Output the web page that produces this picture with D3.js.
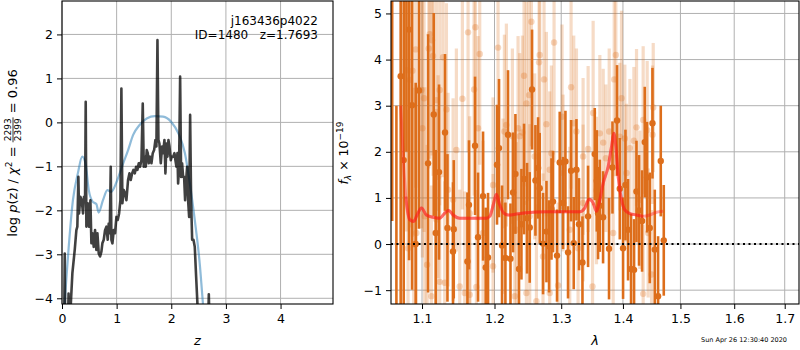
<!DOCTYPE html>
<html>
<head>
<meta charset="utf-8">
<script src="https://cdn.jsdelivr.net/npm/d3@7/dist/d3.min.js"></script>
<style>
body { margin: 0; background: #fff; }
svg text { font-family: "DejaVu Sans", sans-serif; }
</style>
</head>
<body>
<svg width="800" height="350"></svg>
<script>
// ---- left panel: log p(z)
var pzZ = [0.040,0.050,0.058,0.110,0.120,0.126,0.150,0.190,0.233,0.263,0.281,0.300,0.312,0.336,0.361,0.385,0.403,0.422,0.434,0.446,
    0.471,0.495,0.520,0.538,0.556,0.581,0.605,0.629,0.648,0.672,0.697,0.721,0.739,0.764,0.788,0.813,0.837,0.855,0.874,0.892,
    0.904,0.923,0.947,0.971,0.996,1.020,1.045,1.069,1.087,1.105,1.130,1.154,1.179,1.209,1.234,1.258,1.283,1.307,1.332,1.356,
    1.380,1.405,1.429,1.454,1.478,1.496,1.515,1.533,1.551,1.570,1.588,1.612,1.637,1.661,1.686,1.710,1.728,1.747,1.765,1.783,
    1.808,1.832,1.850,1.875,1.893,1.912,1.930,1.948,1.967,1.991,2.009,2.034,2.058,2.076,2.095,2.113,2.125,2.143,2.162,2.180,
    2.198,2.217,2.235,2.253,2.272,2.290,2.308,2.327,2.345,2.363,2.382,2.406,2.430,2.455,2.479,2.500,2.675,2.687,2.700];
var pzLog = [-4.6,-2.98,-4.6,-4.6,-3.89,-4.6,-4.4,-3.43,-2.90,-2.45,-2.37,-1.24,-2.07,-1.69,-1.77,-2.07,-1.69,-1.77,0.47,-2.37,
    -1.84,-2.37,-1.77,-2.75,-2.52,-2.83,-2.45,-2.90,-2.52,-2.98,-3.05,-2.94,-2.75,-2.67,-2.45,-2.37,-2.67,-2.30,-2.52,-1.01,
    -2.67,-2.75,-2.45,-2.52,-2.15,-2.22,-2.07,-1.77,0.77,-1.84,-1.54,-1.61,-1.77,-1.31,-1.16,-1.31,-1.16,-1.08,-1.16,-1.01,
    -1.08,-0.93,-1.01,-0.86,0.43,-1.01,-0.78,-1.01,-0.63,-0.70,-0.93,-0.78,-0.93,-0.70,-0.63,-0.40,-0.55,1.87,-0.40,-0.48,
    -0.93,-0.55,-0.70,-0.40,-1.16,-0.48,-0.78,-0.40,-0.55,-0.86,-0.78,-0.78,-0.70,-0.86,-1.01,-0.70,-1.39,-1.01,1.04,-1.24,
    -0.93,-1.24,-1.24,-1.77,-1.31,-1.01,-1.77,-2.15,0.17,-1.77,-2.67,-2.67,-2.83,-3.51,-4.13,-4.6,-4.6,-3.91,-4.6];
var priorZ = [0.03,0.05,0.11,0.20,0.29,0.37,0.43,0.49,0.56,0.63,0.67,0.75,0.83,0.90,1.00,1.12,1.21,1.30,1.42,1.55,
    1.70,1.85,2.00,2.13,2.25,2.34,2.43,2.52,2.58,2.61];
var priorLog = [-4.6,-4.13,-3.05,-1.77,-1.16,-0.78,-0.93,-1.54,-1.80,-1.86,-2.05,-1.77,-1.54,-1.58,-1.35,-0.93,-0.63,-0.29,-0.06,0.09,
    0.14,0.13,0.01,-0.25,-0.70,-1.39,-2.22,-3.20,-4.13,-4.6];
var zTicks = [0, 1, 2, 3, 4];
var pzTicks = [-4, -3, -2, -1, 0, 1, 2];
var objName = "j163436p4022";
var objInfo = "ID=1480   z=1.7693";
var chiNum = "2293", chiDen = "2399", chiVal = "0.96";

// ---- right panel: spectrum
var darkWave = [1.0613,1.0667,1.0722,1.0761,1.0796,1.0830,1.0869,1.0917,1.0960,1.1080,1.1156,1.1182,1.1227,1.1308,1.1341,1.1417,1.1427,
    1.1616,1.1638,1.1723,1.1765,1.1836,1.1874,1.1907,1.2036,1.2065,1.2109,1.2158,1.2196,1.2232,1.2270,1.2305,1.2358,1.2394,1.2433,
    1.2478,1.2518,1.2553,1.2604,1.2644,1.2669,1.2720,1.2772,1.2812,1.2849,1.2873,1.2935,1.2977,1.3029,1.3066,1.3107,1.3155,1.3197,
    1.3240,1.3281,1.3336,1.3426,1.3534,1.3567,1.3588,1.3616,1.3670,1.3768,1.3825,1.3901,1.3947,1.4002,1.4042,1.4086,1.4137,1.4188,
    1.4229,1.4273,1.4325,1.4371,1.4411,1.4458,1.4505,1.4545,1.4603,1.4650,1.4703];
var darkFlux = [6.5,-2.0,3.64,1.82,7.0,4.65,3.01,0.00,3.33,1.75,2.81,0.24,1.56,2.42,0.35,-0.16,0.32,
    -0.38,0.85,2.13,0.15,1.04,-0.51,-0.29,1.72,2.08,-0.03,-0.30,2.37,-0.32,1.12,1.52,-0.54,0.43,1.41,
    0.56,0.36,3.35,1.38,1.65,1.21,0.01,0.27,-0.05,0.76,0.92,-0.25,1.77,0.89,1.79,-0.18,1.59,0.02,
    1.61,0.43,-0.40,0.60,1.95,1.37,0.67,0.83,0.58,-0.10,1.66,2.68,1.20,-0.09,1.28,0.31,-0.54,-0.56,
    1.14,0.73,0.50,2.21,1.45,0.35,2.62,-0.12,-1.13,1.80,0.08];
var darkErr = [6.0,5.0,5.0,4.0,5.0,5.0,4.0,3.5,3.0,2.8,2.2,1.8,1.9,1.7,1.6,1.5,1.5,
    1.5,1.4,1.5,1.4,1.4,1.3,1.4,1.3,1.5,1.3,1.2,1.4,1.2,1.3,1.3,1.2,1.2,1.2,
    1.2,1.2,1.3,1.2,1.1,1.2,1.1,1.1,1.0,1.1,1.1,1.0,1.1,1.0,1.1,1.0,1.1,1.0,
    1.1,1.0,1.0,1.1,1.0,1.1,1.0,1.0,1.0,1.1,1.0,1.2,1.1,1.1,1.2,1.1,1.2,1.1,
    1.1,1.2,1.1,1.2,1.2,1.2,1.2,1.3,1.3,1.2,1.2];
var lightWave = [1.0795,1.0839,1.0874,1.0917,1.0891,1.0992,1.1005,1.1027,1.1089,1.1102,1.1133,1.1147,1.1191,1.1214,1.1236,1.1281,1.1327,
    1.1349,1.1463,1.1546,1.1625,1.1709,1.1728,1.1765,1.1789,1.1979,1.2051,1.2143,1.2172,1.2260,1.2344,1.2369,1.2408,1.2433,1.2468,
    1.2508,1.2543,1.2593,1.2659,1.2669,1.2735,1.2771,1.2822,1.2848,1.2889,1.3013,1.3155,1.3197,1.3240,1.3346,1.3427,1.3508,1.3617,
    1.3672,1.3716,1.3771,1.3854,1.3881,1.3948,1.3976,1.4032,1.4117,1.4185,1.4230,1.4344,1.4413,1.4489,1.4506,1.4518,
    1.0817,1.1067,1.1124,1.1236,1.1304,1.1509,1.1579,1.1648,1.1742,1.1979,1.2295,1.2468,1.2619,1.2822,1.2951,1.3266,1.3498,1.4344,
    1.0926,1.1036,1.1191,1.1418,1.1648,1.1836,1.2123,1.2319,1.2518,1.2719,1.3029,1.3134,1.3346,1.3562,1.3837,1.4060,1.4287,1.4430];
var lightFlux = [3.77,3.56,3.76,4.22,-0.01,3.34,2.51,3.16,4.24,4.55,4.42,4.08,3.12,1.46,3.34,4.05,2.92,
    1.18,2.04,3.15,4.59,3.35,4.70,2.51,4.12,1.28,4.26,2.44,2.58,2.34,2.51,2.34,2.42,3.65,3.05,
    3.23,4.82,1.90,3.94,4.10,3.57,2.60,1.61,1.97,4.37,2.76,3.40,2.62,2.44,1.90,2.06,2.84,2.40,
    2.20,1.86,2.44,3.57,4.10,2.33,3.16,2.29,2.08,2.24,2.53,2.69,2.47,-0.66,2.37,2.96,
    -0.09,-0.45,-1.13,-0.82,-0.84,-0.92,-1.06,-1.10,-0.93,-0.48,-1.13,-1.06,-1.24,-1.06,-0.90,-0.09,-0.92,-1.08,
    0.24,0.60,0.53,0.96,0.67,0.24,0.82,0.31,0.60,-0.27,1.54,0.31,0.89,1.16,0.24,1.54,0.96,0.24];
var lightErr = [3.5,3.2,3.6,3.0,3.4,3.0,2.8,2.9,2.6,2.7,2.5,2.6,2.4,2.2,2.5,2.6,2.3,
    2.1,2.2,2.4,2.6,2.3,2.7,2.0,2.4,1.9,2.6,2.1,2.2,1.9,2.0,1.8,2.1,2.4,2.2,
    2.3,2.7,1.8,2.4,2.5,2.2,2.0,1.7,1.9,2.6,2.0,2.2,1.9,1.8,1.7,1.8,2.0,1.7,
    1.6,1.6,1.8,2.1,2.4,1.6,1.9,1.6,1.5,1.6,1.7,1.6,1.5,1.4,1.5,1.4,
    3.0,2.6,2.4,2.3,2.2,2.1,2.2,2.0,2.1,2.0,1.9,2.0,2.1,1.9,1.8,1.7,1.8,1.5,
    3.2,2.8,2.4,2.2,2.1,2.0,1.9,1.9,2.0,1.8,1.7,1.8,1.7,1.6,1.7,1.5,1.5,1.4];
var modelWave = [1.0722,1.0752,1.0787,1.0839,1.0891,1.0935,1.0992,1.1058,1.1147,1.1236,1.1304,1.1358,1.1418,1.1509,1.1695,1.1884,
    1.1931,1.1989,1.2027,1.2075,1.2134,1.2197,1.2319,1.2468,1.2771,1.3029,1.3292,1.3373,1.3443,1.3508,1.3562,1.3617,1.3672,
    1.3754,1.3809,1.3848,1.3881,1.3920,1.3976,1.4032,1.4117,1.4230,1.4344,1.4459,1.4576,1.4693];
var modelFlux = [3.00,1.97,1.03,0.53,0.49,0.63,0.78,0.63,0.58,0.56,0.67,0.73,0.63,0.56,0.56,0.56,
    0.60,0.89,1.08,0.85,0.67,0.63,0.65,0.68,0.70,0.70,0.70,0.78,0.97,0.89,0.71,0.96,1.32,
    1.68,2.11,2.40,2.11,1.46,0.96,0.74,0.66,0.63,0.60,0.63,0.69,0.71];
var beamRanges = [[1.0722, 1.4693], [1.0787, 1.4400]];
var waveTicks = [1.1, 1.2, 1.3, 1.4, 1.5, 1.6, 1.7];
var fluxTicks = [-1, 0, 1, 2, 3, 4, 5];
var stamp = "Sun Apr 26 12:30:40 2020";

var orange = "#dd6e1b";
var svg = d3.select("svg");

// Left panel scales
var zx = d3.scaleLinear().domain([0, 4.96]).range([62, 333]);
var zy = d3.scaleLinear().domain([-4.13, 2.76]).range([304, 1]);
// Right panel scales (log wavelength axis)
var lx = d3.scaleLog().domain([1.0598, 1.7294]).range([391, 799]);
var ly = d3.scaleLinear().domain([-1.30, 5.27]).range([304, 1]);

function panel(id, x, y, xticks, yticks) {
    var g = svg.append("g");
    var x0 = x.range()[0], x1 = x.range()[1], y0 = y.range()[1], y1 = y.range()[0];
    svg.append("clipPath").attr("id", id).append("rect")
        .attr("x", x0).attr("y", y0).attr("width", x1 - x0).attr("height", y1 - y0);
    // grid
    g.selectAll(".gx").data(xticks).enter().append("line")
        .attr("x1", function(d) { return x(d); }).attr("x2", function(d) { return x(d); })
        .attr("y1", y0).attr("y2", y1)
        .attr("stroke", "#b0b0b0").attr("stroke-width", 1);
    g.selectAll(".gy").data(yticks).enter().append("line")
        .attr("x1", x0).attr("x2", x1)
        .attr("y1", function(d) { return y(d); }).attr("y2", function(d) { return y(d); })
        .attr("stroke", "#b0b0b0").attr("stroke-width", 1);
    return g;
}

function frame(x, y, xticks, yticks, xfmt) {
    var x0 = x.range()[0], x1 = x.range()[1], y0 = y.range()[1], y1 = y.range()[0];
    var ax = svg.append("g").attr("transform", "translate(0," + y1 + ")")
        .call(d3.axisBottom(x).tickValues(xticks).tickSize(5).tickPadding(5).tickFormat(xfmt));
    var ay = svg.append("g").attr("transform", "translate(" + x0 + ",0)")
        .call(d3.axisLeft(y).tickValues(yticks).tickSize(5).tickPadding(4).tickFormat(d3.format("d")));
    [ax, ay].forEach(function(a) {
        a.select(".domain").remove();
        a.attr("font-family", null).attr("font-size", 12.5);
        a.selectAll("line").attr("stroke", "#000").attr("stroke-width", 1);
        a.selectAll("text").attr("fill", "#000");
    });
    svg.append("rect").attr("x", x0).attr("y", y0).attr("width", x1 - x0).attr("height", y1 - y0)
        .attr("fill", "none").attr("stroke", "#000").attr("stroke-width", 1.1);
}

// ---------- left panel
panel("clipL", zx, zy, zTicks, pzTicks);
var gl = svg.append("g").attr("clip-path", "url(#clipL)");

var prior = priorZ.map(function(z, i) { return [z, priorLog[i]]; });
gl.append("path").datum(prior)
    .attr("fill", "none").attr("stroke", "#1f77b4").attr("stroke-opacity", 0.5).attr("stroke-width", 2.2)
    .attr("d", d3.line().x(function(d) { return zx(d[0]); }).y(function(d) { return zy(d[1]); }).curve(d3.curveMonotoneX));

var pz = pzZ.map(function(z, i) { return [z, pzLog[i]]; });
gl.append("path").datum(pz)
    .attr("fill", "none").attr("stroke", "#000").attr("stroke-opacity", 0.75).attr("stroke-width", 2.6)
    .attr("stroke-linejoin", "round")
    .attr("d", d3.line().x(function(d) { return zx(d[0]); }).y(function(d) { return zy(d[1]); }));

frame(zx, zy, zTicks, pzTicks, d3.format("d"));

svg.append("text").attr("x", 318).attr("y", 25).attr("text-anchor", "end").attr("font-size", 12)
    .text(objName);
svg.append("text").attr("x", 318).attr("y", 39).attr("text-anchor", "end").attr("font-size", 12)
    .style("white-space", "pre").text(objInfo);

// x label
svg.append("text").attr("x", zx(2.48)).attr("y", 345).attr("text-anchor", "middle")
    .attr("font-size", 13).attr("font-style", "italic").text("z");

// y label with the chi2 fraction
var lab = svg.append("g").attr("transform", "translate(17,153) rotate(-90)");
var inner = lab.append("g");
var t1 = inner.append("text").attr("font-size", 13);
t1.append("tspan").text("log ");
t1.append("tspan").attr("font-style", "italic").text("p");
t1.append("tspan").text("(z) / ");
t1.append("tspan").attr("font-style", "italic").text("χ");
t1.append("tspan").attr("font-size", 9).attr("dy", -5).text("2");
t1.append("tspan").attr("dy", 5).style("white-space", "pre").text(" = ");
var w1 = t1.node().getComputedTextLength();
var num = inner.append("text").attr("font-size", 9).attr("text-anchor", "middle").attr("y", -6).text(chiNum);
var fw = num.node().getComputedTextLength() + 2;
num.attr("x", w1 + fw / 2);
inner.append("text").attr("font-size", 9).attr("text-anchor", "middle")
    .attr("x", w1 + fw / 2).attr("y", 4).text(chiDen);
inner.append("line").attr("x1", w1).attr("x2", w1 + fw).attr("y1", -4).attr("y2", -4)
    .attr("stroke", "#000").attr("stroke-width", 0.8);
var t3 = inner.append("text").attr("font-size", 13).attr("x", w1 + fw)
    .style("white-space", "pre").text(" = " + chiVal);
var total = w1 + fw + t3.node().getComputedTextLength();
inner.attr("transform", "translate(" + (-total / 2) + ",0)");

// ---------- right panel
panel("clipR", lx, ly, waveTicks, fluxTicks);
var gr = svg.append("g").attr("clip-path", "url(#clipR)");

var light = lightWave.map(function(w, i) { return {w: w, f: lightFlux[i], e: lightErr[i]}; });
var dark = darkWave.map(function(w, i) { return {w: w, f: darkFlux[i], e: darkErr[i]}; });

gr.append("g").selectAll("line").data(light).enter().append("line")
    .attr("x1", function(d) { return lx(d.w); }).attr("x2", function(d) { return lx(d.w); })
    .attr("y1", function(d) { return ly(d.f - d.e); }).attr("y2", function(d) { return ly(d.f + d.e); })
    .attr("stroke", orange).attr("stroke-opacity", 0.25).attr("stroke-width", 3.2);
gr.append("g").selectAll("circle").data(light).enter().append("circle")
    .attr("cx", function(d) { return lx(d.w); }).attr("cy", function(d) { return ly(d.f); })
    .attr("r", 3.2).attr("fill", orange).attr("fill-opacity", 0.28);

gr.append("g").selectAll("line").data(dark).enter().append("line")
    .attr("x1", function(d) { return lx(d.w); }).attr("x2", function(d) { return lx(d.w); })
    .attr("y1", function(d) { return ly(d.f - d.e); }).attr("y2", function(d) { return ly(d.f + d.e); })
    .attr("stroke", orange).attr("stroke-width", 2.6);
gr.append("g").selectAll("circle").data(dark).enter().append("circle")
    .attr("cx", function(d) { return lx(d.w); }).attr("cy", function(d) { return ly(d.f); })
    .attr("r", 3.2).attr("fill", orange);

// model, one curve per beam
var model = modelWave.map(function(w, i) { return [w, modelFlux[i]]; });
beamRanges.forEach(function(r) {
    var seg = model.filter(function(d) { return d[0] >= r[0] && d[0] <= r[1]; });
    gr.append("path").datum(seg)
        .attr("fill", "none").attr("stroke", "#ff1a1a").attr("stroke-opacity", 0.4).attr("stroke-width", 3)
        .attr("d", d3.line().x(function(d) { return lx(d[0]); }).y(function(d) { return ly(d[1]); }).curve(d3.curveMonotoneX));
});

// zero line
gr.append("line").attr("x1", lx.range()[0]).attr("x2", lx.range()[1])
    .attr("y1", ly(0)).attr("y2", ly(0))
    .attr("stroke", "#000").attr("stroke-width", 2).attr("stroke-dasharray", "2,3.5");

frame(lx, ly, waveTicks, fluxTicks, d3.format(".1f"));

svg.append("text").attr("x", 595).attr("y", 345).attr("text-anchor", "middle")
    .attr("font-size", 13).attr("font-style", "italic").text("λ");

var rl = svg.append("text").attr("transform", "translate(348,153) rotate(-90)")
    .attr("text-anchor", "middle").attr("font-size", 12.5);
rl.append("tspan").attr("font-style", "italic").text("f");
rl.append("tspan").attr("font-style", "italic").attr("font-size", 9).attr("dy", 3).text("λ");
rl.append("tspan").attr("dy", -3).style("white-space", "pre").text(" × 10");
rl.append("tspan").attr("font-size", 9).attr("dy", -5).text("−19");

svg.append("text").attr("x", 787).attr("y", 342).attr("text-anchor", "end")
    .attr("font-size", 6.5).text(stamp);
</script>
</body>
</html>
